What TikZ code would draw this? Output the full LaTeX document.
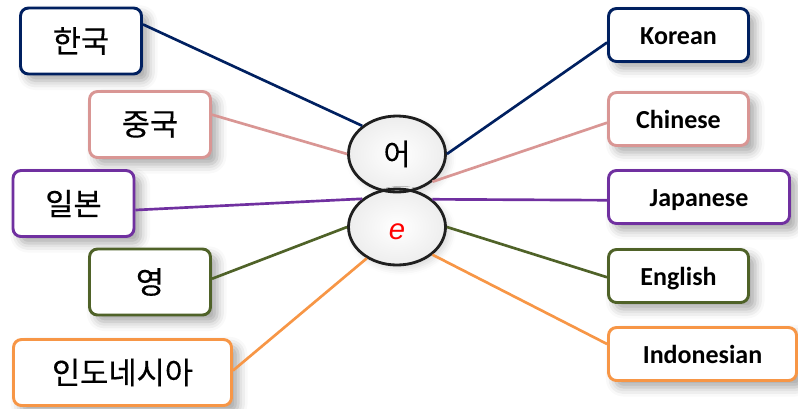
\documentclass[tikz,border=0pt]{standalone}
\usepackage{fontspec}
\setmainfont{Carlito}
\newfontfamily\krfont{Noto Sans CJK KR}[FakeBold=0.3]
\newfontfamily\latfont{Liberation Sans}
\usetikzlibrary{shapes.geometric,shadows.blur}
\definecolor{cKo}{HTML}{002060}
\definecolor{cZh}{HTML}{D99694}
\definecolor{cJa}{HTML}{7030A0}
\definecolor{cEn}{HTML}{4F6228}
\definecolor{cId}{HTML}{F79646}
\begin{document}
\begin{tikzpicture}[x=0.75pt,y=-0.75pt,
 box/.style={draw, line width=2.2pt, rounded corners=6pt, fill=white, inner sep=0pt,
   blur shadow={shadow xshift=5pt, shadow yshift=-5pt, shadow blur radius=7pt, shadow opacity=35}},
 kbox/.style={box, minimum width=#1, minimum height=49.5pt, font=\krfont\fontsize{23}{27}\selectfont},
 ebox/.style={box, minimum width=#1, minimum height=39.75pt, text height=14.8pt, text depth=0pt,
   font=\bfseries\fontsize{19.5}{23}\selectfont},
 link/.style={line width=2pt},
 bubble/.style={ellipse, minimum width=72.75pt, minimum height=57pt, inner sep=0pt},
 bubblefill/.style={bubble, inner color=white, outer color=black!7,
   blur shadow={shadow xshift=3pt, shadow yshift=-3pt, shadow blur radius=5pt, shadow opacity=15}},
 bubbleline/.style={bubble, draw=black!88, line width=2.1pt}
]
\useasboundingbox (0,0) rectangle (798,408);

% left boxes
\node[kbox=90.75pt, draw=cKo] (han) at (81,41) {한국};
\node[kbox=90.75pt, draw=cZh] (jung) at (150,124.5) {중국};
\node[kbox=90.75pt, draw=cJa] (il) at (73.5,203.5) {일본};
\node[kbox=90.75pt, draw=cEn] (yeong) at (150,282) {영};
\node[kbox=163.5pt, draw=cId] (indo) at (122.5,372.5) {인도네시아};

% right boxes
\node[ebox=105pt, draw=cKo] (ko) at (678.5,35) {Korean};
\node[ebox=105pt, draw=cZh] (zh) at (678.5,119) {Chinese};
\node[ebox=135.75pt, draw=cJa] (ja) at (699,197) {Japanese};
\node[ebox=105pt, draw=cEn] (en) at (678.5,276) {English};
\node[ebox=141pt, draw=cId] (id) at (702.5,354) {Indonesian};

% ellipses (fills)
\node[bubblefill] (eo) at (397,154) {};
\node[bubblefill] (ee) at (397,227) {};
\node[bubbleline, font=\krfont\fontsize{22}{26}\selectfont] (eoRing) at (eo) {어};
\node[bubbleline, text height=18.9pt, text depth=0pt,
  font=\latfont\itshape\fontsize{22}{26}\selectfont, text=red] (eeRing) at (ee) {e};

% connectors
\draw[link, cKo] (han.15) -- (eoRing.141);
\draw[link, cKo] (eoRing.0) -- (ko.186.6);
\draw[link, cZh] (jung.9) -- (eoRing.180);
\draw[link, cZh] (eoRing.-38.6) -- (zh.183.4);
\draw[link, cJa] (il.-6) -- (eeRing.141.4);
\draw[link, cJa] (eeRing.38.6) -- (ja.182.5);
\draw[link, cEn] (yeong.3.7) -- (eeRing.180);
\draw[link, cEn] (eeRing.0) -- (en.181.8);
\draw[link, cId] (indo.1.3) -- (eeRing.-134);
\draw[link, cId] (eeRing.-38) -- (id.174.6);
\end{tikzpicture}
\end{document}
